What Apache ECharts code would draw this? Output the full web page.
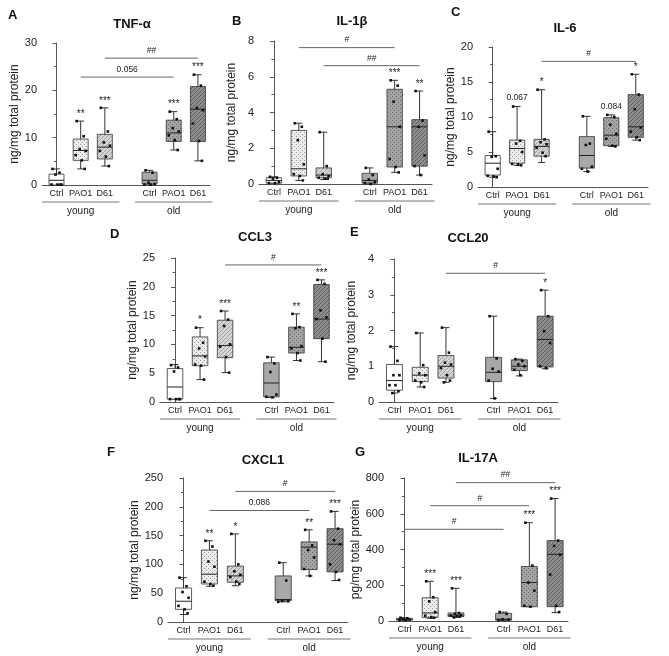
<!DOCTYPE html>
<html><head><meta charset="utf-8">
<script src="https://cdn.jsdelivr.net/npm/echarts@6/dist/echarts.min.js"></script>
<style>html,body{margin:0;padding:0;background:#fff}#c{width:669px;height:656px}</style>
</head><body><div id="c"></div><script>
// ---------- shared categories ----------
const catLabels = ['Ctrl', 'PAO1', 'D61', 'Ctrl', 'PAO1', 'D61'];
const groupLabels = ['young', 'old'];
const xPos = [0, 1, 2, 3.85, 4.85, 5.85];

// ---------- A: TNF-α  box = [min, q1, median, q3, max] ----------
const tnfBox = [[0, 0, 1.0, 2.3, 3.4], [3.4, 5.2, 7.3, 9.7, 13.5], [4.0, 5.5, 8.0, 10.7, 16.3],
                [0, 0.2, 1.0, 2.7, 3.1], [7.4, 9.2, 11.0, 13.7, 15.5], [5.1, 9.2, 16.0, 20.8, 23.3]];
const tnfPts = [[3.4, 2.6, 2.2, 0.1, 0.1, 0.1, 0.1], [13.5, 10.3, 7.6, 7.2, 6.3, 5.2, 3.4], [16.3, 11.3, 9.0, 8.3, 7.2, 6.0, 4.0],
                [3.1, 2.6, 0.5, 0.2, 0.1, 0.1], [15.5, 13.9, 12.0, 11.3, 10.5, 9.5, 7.4], [23.3, 21.0, 16.3, 15.8, 13.0, 9.3, 5.1]];
const tnfStars = ['', '**', '***', '', '***', '***'];
const tnfBars = [[1, 4, 22.8, '0.056'], [2, 5, 26.8, '##']];

// ---------- B: IL-1β ----------
const il1Box = [[0.05, 0.05, 0.2, 0.35, 0.4], [0.2, 0.45, 0.85, 3.0, 3.4], [0.25, 0.35, 0.5, 0.9, 2.9],
                [0, 0.05, 0.2, 0.6, 0.9], [0.65, 0.95, 3.2, 5.3, 5.8], [0.5, 1.0, 3.2, 3.6, 5.2]];
const il1Pts = [[0.4, 0.35, 0.3, 0.1, 0.05, 0.05], [3.4, 3.2, 2.45, 1.1, 0.55, 0.45, 0.2], [2.9, 1.0, 0.55, 0.45, 0.35, 0.3, 0.3],
                [0.9, 0.5, 0.25, 0.1, 0.05, 0.0], [5.8, 5.5, 4.6, 3.2, 1.4, 0.95, 0.65], [5.2, 3.55, 3.2, 1.6, 1.0, 0.5]];
const il1Stars = ['', '', '', '', '***', '**'];
const il1Bars = [[1, 4, 7.63, '#'], [2, 5, 6.62, '##']];

// ---------- C: IL-6 ----------
const il6Box = [[1.4, 1.7, 3.4, 4.5, 7.9], [3.1, 3.4, 5.5, 6.7, 11.5], [3.5, 4.4, 5.8, 6.8, 13.9],
                [2.2, 2.7, 4.5, 7.2, 10.1], [5.8, 5.9, 7.4, 9.9, 10.3], [6.7, 7.1, 8.6, 13.2, 16.1]];
const il6Pts = [[7.9, 4.4, 4.3, 2.6, 1.6, 1.5, 1.4], [11.5, 6.6, 6.2, 5.0, 3.3, 3.2, 3.1], [13.9, 6.8, 6.4, 6.1, 5.6, 4.9, 4.4],
                [10.1, 6.2, 6.0, 2.9, 2.6, 2.2], [10.3, 10.0, 8.9, 7.6, 6.9, 5.9, 5.8], [16.1, 13.2, 11.1, 8.5, 7.9, 7.1, 6.7]];
const il6Stars = ['', '0.067', '*', '', '0.084', '*'];
const il6Bars = [[2, 5, 17.95, '#']];

// ---------- D: CCL3 ----------
const ccl3Box = [[0.5, 0.5, 2.6, 5.8, 6.5], [3.9, 6.3, 8.0, 11.3, 12.9], [5.1, 7.7, 9.8, 14.2, 15.8],
                 [0.8, 0.9, 3.3, 6.8, 7.8], [7.2, 8.5, 9.5, 13.0, 15.3], [7.0, 11.0, 14.4, 20.4, 21.2]];
const ccl3Pts = [[6.4, 6.0, 5.3, 0.5, 0.5, 0.5, 0.5], [12.9, 10.3, 9.3, 7.9, 6.5, 6.3, 3.9], [15.8, 14.3, 13.2, 10.0, 9.6, 7.8, 5.1],
                 [7.8, 6.7, 5.2, 1.3, 0.9, 0.8], [15.3, 13.0, 12.8, 9.7, 9.3, 8.5, 7.2], [21.2, 20.5, 15.9, 14.7, 14.4, 11.0, 7.0]];
const ccl3Stars = ['', '*', '***', '', '**', '***'];
const ccl3Bars = [[2, 5, 23.8, '#']];

// ---------- E: CCL20 ----------
const ccl20Box = [[0.25, 0.33, 0.6, 1.05, 1.55], [0.42, 0.57, 0.75, 0.97, 1.93], [0.55, 0.67, 1.0, 1.3, 2.08],
                  [0.1, 0.57, 0.83, 1.25, 2.4], [0.73, 0.88, 1.0, 1.18, 1.2], [0.93, 0.98, 1.75, 2.4, 3.13]];
const ccl20Pts = [[1.55, 1.15, 0.75, 0.75, 0.47, 0.47, 0.3, 0.25], [1.93, 1.03, 0.8, 0.75, 0.6, 0.55, 0.42], [2.08, 1.38, 1.1, 1.05, 0.95, 0.75, 0.6, 0.55],
                  [2.4, 1.22, 0.93, 0.85, 0.6, 0.1], [1.2, 1.15, 1.05, 1.0, 0.9, 0.75], [3.13, 2.4, 1.98, 1.65, 1.0, 0.95]];
const ccl20Stars = ['', '', '', '', '', '*'];
const ccl20Bars = [[2, 5, 3.6, '#']];

// ---------- F: CXCL1 ----------
const cxclBox = [[13, 22, 36, 59, 77], [62, 66, 83, 125, 141], [63, 69, 80, 97, 153],
                 [35, 37, 39, 80, 103], [80, 91, 130, 139, 160], [72, 87, 135, 162, 192]];
const cxclPts = [[77, 62, 52, 42, 28, 22, 15], [141, 131, 105, 96, 70, 66, 63], [153, 100, 88, 82, 78, 70, 66],
                 [103, 72, 37, 36, 35], [160, 133, 125, 112, 92, 80], [192, 162, 142, 135, 100, 87, 73]];
const cxclStars = ['', '**', '*', '', '**', '***'];
const cxclBars = [[1, 4, 193.6, '0.086'], [2, 5, 226.7, '#']];

// ---------- G: IL-17A ----------
const il17Box = [[3, 5, 10, 15, 18], [15, 20, 45, 130, 222], [20, 25, 33, 45, 183],
                 [3, 5, 10, 43, 50], [80, 80, 215, 305, 550], [47, 80, 373, 450, 685]];
const il17Pts = [[18, 15, 10, 8, 5, 3], [222, 133, 110, 50, 30, 22, 18], [183, 45, 40, 33, 30, 28, 25, 20],
                 [50, 40, 10, 8, 5], [550, 310, 215, 170, 85, 80], [685, 450, 420, 370, 260, 85, 50]];
const il17Stars = ['', '***', '***', '', '***', '***'];
const il17Bars = [[0, 3, 513, '#'], [1, 4, 645, '#'], [2, 5, 774, '##']];

// ---------- panel layout ----------
const panels = [
  {letter: 'A', title: 'TNF-α', unit: 'ng/mg total protein', box: tnfBox, pts: tnfPts, stars: tnfStars, bars: tnfBars, max: 30, interval: 10,
   grid: {left: 42, top: 43, width: 168, height: 142}, letterXY: [13, 16], titleXY: [132, 24]},
  {letter: 'B', title: 'IL-1β', unit: 'ng/mg total protein', box: il1Box, pts: il1Pts, stars: il1Stars, bars: il1Bars, max: 8, interval: 2,
   grid: {left: 259, top: 41, width: 173, height: 143}, letterXY: [237, 22], titleXY: [352, 21]},
  {letter: 'C', title: 'IL-6', unit: 'ng/mg total protein', box: il6Box, pts: il6Pts, stars: il6Stars, bars: il6Bars, max: 20, interval: 5,
   grid: {left: 478, top: 47, width: 170, height: 140}, letterXY: [456, 13], titleXY: [565, 28]},
  {letter: 'D', title: 'CCL3', unit: 'ng/mg total protein', box: ccl3Box, pts: ccl3Pts, stars: ccl3Stars, bars: ccl3Bars, max: 25, interval: 5,
   grid: {left: 160, top: 258, width: 174, height: 144}, letterXY: [115, 235], titleXY: [255, 237]},
  {letter: 'E', title: 'CCL20', unit: 'ng/mg total protein', box: ccl20Box, pts: ccl20Pts, stars: ccl20Stars, bars: ccl20Bars, max: 4, interval: 1,
   grid: {left: 379, top: 259, width: 179, height: 143}, letterXY: [355, 233], titleXY: [468, 238]},
  {letter: 'F', title: 'CXCL1', unit: 'ng/mg total protein', box: cxclBox, pts: cxclPts, stars: cxclStars, bars: cxclBars, max: 250, interval: 50,
   grid: {left: 168, top: 478, width: 180, height: 144}, letterXY: [112, 453], titleXY: [263, 460]},
  {letter: 'G', title: 'IL-17A', unit: 'pg/mg total protein', box: il17Box, pts: il17Pts, stars: il17Stars, bars: il17Bars, max: 800, interval: 200,
   grid: {left: 389, top: 478, width: 179, height: 143}, letterXY: [360, 453], titleXY: [478, 458]}
];

// ---------- fill patterns ----------
function makePattern(base, ink, kind) {
  const c = document.createElement('canvas');
  const s = 4;
  c.width = s; c.height = s;
  const g = c.getContext('2d');
  g.fillStyle = base; g.fillRect(0, 0, s, s);
  g.fillStyle = ink; g.strokeStyle = ink;
  if (kind === 'dots') {
    g.fillRect(0, 0, 1, 1); g.fillRect(2, 2, 1, 1);
  } else {
    g.lineWidth = 1;
    g.beginPath(); g.moveTo(0, s); g.lineTo(s, 0); g.stroke();
    g.beginPath(); g.moveTo(-1, 1); g.lineTo(1, -1); g.stroke();
    g.beginPath(); g.moveTo(s - 1, s + 1); g.lineTo(s + 1, s - 1); g.stroke();
  }
  return {image: c, repeat: 'repeat'};
}
const fills = [
  '#ffffff',
  makePattern('#ececec', '#9a9a9a', 'dots'),
  makePattern('#d6d6d6', '#a0a0a0', 'hatch'),
  '#a8a8a8',
  makePattern('#a4a4a4', '#6a6a6a', 'dots'),
  makePattern('#8e8e8e', '#606060', 'hatch')
];
const edge = '#333';
const jit = [-4, 3, -1, 5, -5, 1, 4, -2];
const FONT = '"Liberation Sans", Arial, sans-serif';

const grids = [], xAxes = [], yAxes = [], series = [], graphics = [];

panels.forEach((p, pi) => {
  grids.push(p.grid);
  xAxes.push({type: 'value', gridIndex: pi, min: -0.6, max: 6.35,
    axisLine: {show: true, onZero: false, lineStyle: {color: '#555', width: 1}},
    axisTick: {show: false}, axisLabel: {show: false}, splitLine: {show: false}});
  yAxes.push({type: 'value', gridIndex: pi, min: 0, max: p.max, interval: p.interval,
    name: p.unit, nameLocation: 'middle', nameGap: 21, nameRotate: 90,
    nameTextStyle: {fontFamily: FONT, fontSize: 12, color: '#222'},
    axisLine: {show: true, lineStyle: {color: '#555', width: 1}},
    axisTick: {show: true, length: 4, lineStyle: {color: '#555'}},
    minorTick: {show: true, splitNumber: 2, length: 2.5, lineStyle: {color: '#555'}},
    axisLabel: {fontFamily: FONT, fontSize: 11, color: '#222', margin: 5},
    splitLine: {show: false}});

  // boxes, whiskers, points, stars
  series.push({
    type: 'custom', xAxisIndex: pi, yAxisIndex: pi, clip: false, silent: true,
    data: p.box.map((b, i) => [xPos[i], b[0], b[4], i]),
    encode: {x: 0, y: [1, 2]},
    renderItem: (params, api) => {
      const i = api.value(3);
      const b = p.box[i];
      const x = xPos[i];
      const pMin = api.coord([x, b[0]]), pQ1 = api.coord([x, b[1]]), pMed = api.coord([x, b[2]]),
            pQ3 = api.coord([x, b[3]]), pMax = api.coord([x, b[4]]);
      const l = api.coord([x - 0.31, 0])[0], r = api.coord([x + 0.31, 0])[0];
      const cx = pMin[0], cw = 3.5;
      const ls = {stroke: edge, lineWidth: 1};
      const ch = [
        {type: 'line', shape: {x1: cx, y1: pMin[1], x2: cx, y2: pQ1[1]}, style: ls},
        {type: 'line', shape: {x1: cx, y1: pQ3[1], x2: cx, y2: pMax[1]}, style: ls},
        {type: 'line', shape: {x1: cx - cw, y1: pMin[1], x2: cx + cw, y2: pMin[1]}, style: ls},
        {type: 'line', shape: {x1: cx - cw, y1: pMax[1], x2: cx + cw, y2: pMax[1]}, style: ls},
        {type: 'rect', shape: {x: l, y: pQ3[1], width: r - l, height: Math.max(pQ1[1] - pQ3[1], 0.5)},
         style: {fill: fills[i], stroke: edge, lineWidth: 0.8}},
        {type: 'line', shape: {x1: l, y1: pMed[1], x2: r, y2: pMed[1]}, style: {stroke: '#222', lineWidth: 1}}
      ];
      p.pts[i].forEach((v, k) => {
        const q = api.coord([x, v]);
        ch.push({type: 'rect', shape: {x: q[0] + jit[k % jit.length] - 1.3, y: q[1] - 1.3, width: 2.6, height: 2.6},
                 style: {fill: '#111'}});
      });
      if (p.stars[i]) {
        const isNum = /\d/.test(p.stars[i]);
        ch.push({type: 'text', x: cx, y: pMax[1] - (isNum ? 4 : 2),
          style: {text: p.stars[i], fill: '#222', font: (isNum ? '8.5px ' : '10px ') + FONT,
                  textAlign: 'center', textVerticalAlign: 'bottom'}});
      }
      return {type: 'group', children: ch};
    }
  });

  // comparison bars
  series.push({
    type: 'custom', xAxisIndex: pi, yAxisIndex: pi, clip: false, silent: true,
    data: p.bars.map((b, k) => [xPos[b[0]], b[2], xPos[b[1]], k]),
    encode: {x: [0, 2], y: 1},
    renderItem: (params, api) => {
      const bar = p.bars[api.value(3)];
      const a = api.coord([xPos[bar[0]], bar[2]]), c = api.coord([xPos[bar[1]], bar[2]]);
      return {type: 'group', children: [
        {type: 'line', shape: {x1: a[0], y1: a[1], x2: c[0], y2: c[1]}, style: {stroke: '#666', lineWidth: 1}},
        {type: 'text', x: (a[0] + c[0]) / 2, y: a[1] - 3,
         style: {text: bar[3], fill: '#222', font: '8.5px ' + FONT, textAlign: 'center', textVerticalAlign: 'bottom'}}
      ]};
    }
  });

  // category labels + group brackets
  series.push({
    type: 'custom', xAxisIndex: pi, yAxisIndex: pi, clip: false, silent: true,
    data: catLabels.map((c, i) => [xPos[i], 0, i]),
    encode: {x: 0, y: 1},
    renderItem: (params, api) => {
      const i = api.value(2);
      const pt = api.coord([xPos[i], 0]);
      const ch = [{type: 'text', x: pt[0], y: pt[1] + 4,
        style: {text: catLabels[i], fill: '#222', font: '9px ' + FONT, textAlign: 'center', textVerticalAlign: 'top'}}];
      if (i === 0 || i === 3) {
        const a = api.coord([xPos[i] - 0.6, 0])[0], b = api.coord([xPos[i + 2] + 0.6, 0])[0];
        ch.push({type: 'line', shape: {x1: a, y1: pt[1] + 17, x2: b, y2: pt[1] + 17}, style: {stroke: '#777', lineWidth: 1}});
        ch.push({type: 'text', x: (a + b) / 2, y: pt[1] + 21,
          style: {text: groupLabels[i === 0 ? 0 : 1], fill: '#222', font: '10px ' + FONT, textAlign: 'center', textVerticalAlign: 'top'}});
      }
      return {type: 'group', children: ch};
    }
  });

  graphics.push({type: 'text', left: p.letterXY[0] - 5, top: p.letterXY[1] - 7,
    style: {text: p.letter, font: 'bold 13px ' + FONT, fill: '#111'}});
  graphics.push({type: 'text', x: p.titleXY[0], y: p.titleXY[1],
    style: {text: p.title, font: 'bold 13px ' + FONT, fill: '#111', textAlign: 'center', textVerticalAlign: 'middle'}});
});

const chart = echarts.init(document.getElementById('c'), null, {renderer: 'canvas'});
chart.setOption({
  animation: false,
  backgroundColor: '#fff',
  grid: grids, xAxis: xAxes, yAxis: yAxes, series: series, graphic: graphics
});
</script></body></html>
